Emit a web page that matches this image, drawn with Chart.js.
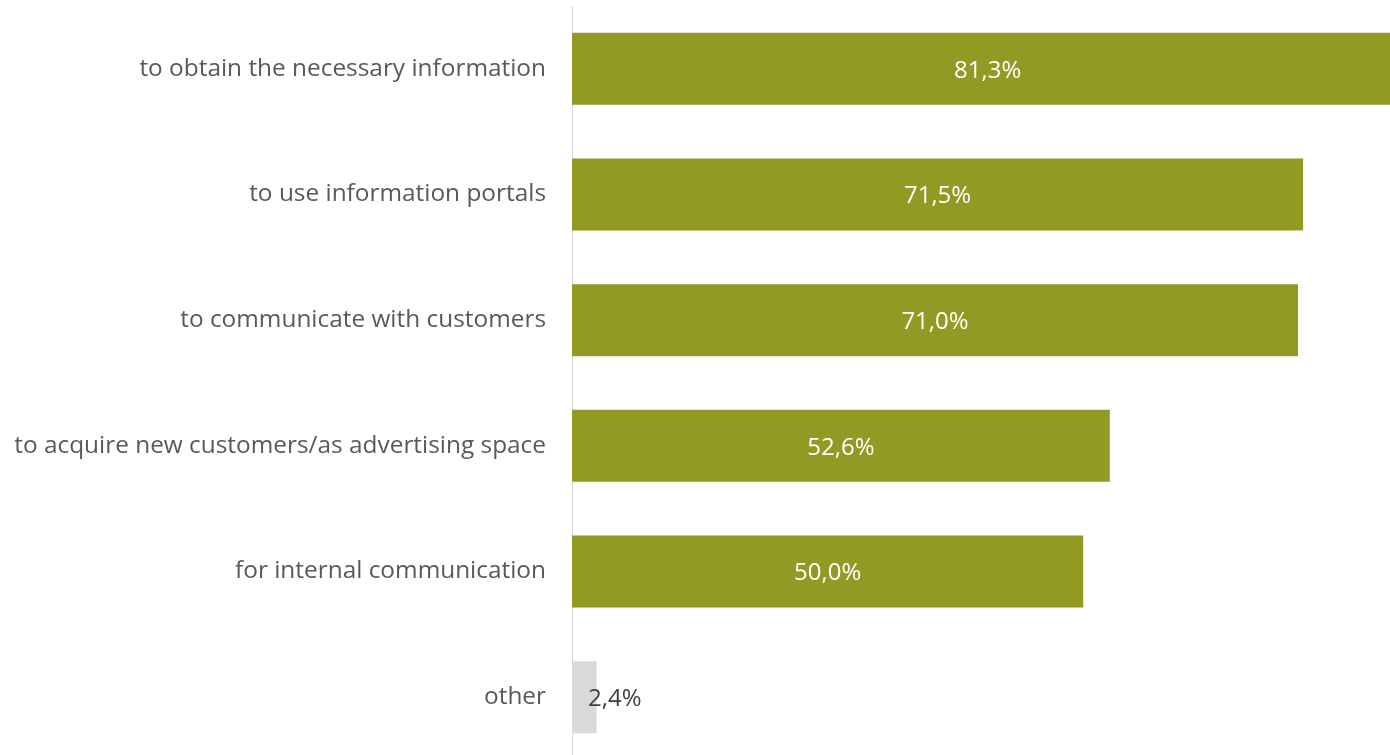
<!DOCTYPE html>
<html>
<head>
<meta charset="utf-8">
<script src="https://cdn.jsdelivr.net/npm/chart.js@4.4.0/dist/chart.umd.min.js"></script>
<style>
    html, body { margin: 0; padding: 0; background: #fff; overflow: hidden; }
    #wrap { position: relative; width: 1390px; height: 762px; }
</style>
</head>
<body>
<div id="wrap"><canvas id="usageChart"></canvas></div>
<script>
// Purposes of use and share of respondents (%)
const purposes = [
    'to obtain the necessary information',
    'to use information portals',
    'to communicate with customers',
    'to acquire new customers/as advertising space',
    'for internal communication',
    'other'
];
const shares = [81.3, 71.5, 71.0, 52.6, 50.0, 2.4];
const barColors = ['#929a24', '#929a24', '#929a24', '#929a24', '#929a24', '#d9d9d9'];

const fontFamily = '"Open Sans", "DejaVu Sans", sans-serif';

// Value labels: centred in the bar, or placed just past the base when the bar is too narrow
const valueLabels = {
    id: 'valueLabels',
    afterDatasetsDraw(chart) {
        const ctx = chart.ctx;
        const meta = chart.getDatasetMeta(0);
        ctx.save();
        ctx.font = '24px ' + fontFamily;
        ctx.textBaseline = 'middle';
        meta.data.forEach((bar, i) => {
            const text = shares[i].toFixed(1).replace('.', ',') + '%';
            const w = ctx.measureText(text).width;
            const y = bar.y + 2;
            if (bar.x - bar.base > w + 10) {
                ctx.fillStyle = '#ffffff';
                ctx.textAlign = 'center';
                ctx.fillText(text, (bar.x + bar.base) / 2, y);
            } else {
                ctx.fillStyle = '#404040';
                ctx.textAlign = 'left';
                ctx.fillText(text, bar.base + 16, y);
            }
        });
        ctx.restore();
    }
};

const ctx = document.getElementById('usageChart').getContext('2d');
new Chart(ctx, {
    type: 'bar',
    data: {
        labels: purposes,
        datasets: [{
            data: shares,
            backgroundColor: barColors,
            borderWidth: 0,
            categoryPercentage: 1,
            barPercentage: 0.573
        }]
    },
    options: {
        indexAxis: 'y',
        responsive: true,
        maintainAspectRatio: false,
        animation: false,
        layout: { padding: { top: 6, bottom: 2, left: 0, right: 0 } },
        plugins: {
            legend: { display: false },
            tooltip: { enabled: false }
        },
        scales: {
            x: {
                display: false,
                min: 0,
                max: 80
            },
            y: {
                grid: { display: false },
                border: { display: true, color: '#d9d9d9', width: 1 },
                ticks: {
                    color: '#595959',
                    padding: 18,
                    font: { family: fontFamily, size: 24.4 }
                },
                afterFit(scale) {
                    scale.width = 572;
                    scale.paddingTop = 0;
                    scale.paddingBottom = 0;
                }
            }
        }
    },
    plugins: [valueLabels]
});
</script>
</body>
</html>
